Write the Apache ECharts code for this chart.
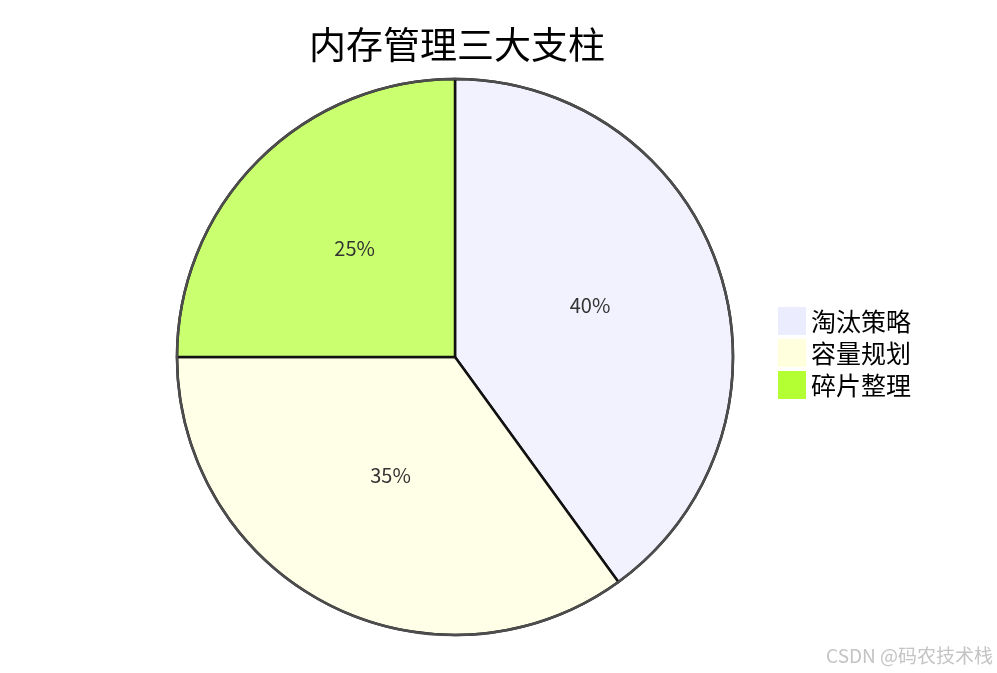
<!DOCTYPE html>
<html>
<head>
<meta charset="utf-8">
<script src="https://cdn.jsdelivr.net/npm/echarts@6/dist/echarts.min.js"></script>
<style>
  html, body { margin: 0; padding: 0; background: #fff; }
  #main { width: 997px; height: 673px; }
</style>
</head>
<body>
<div id="main"></div>
<script>
let titleText = '内存管理三大支柱';
let categories = ['淘汰策略', '容量规划', '碎片整理'];
let values = [40, 35, 25];
// legend swatches use the full colour, slices are drawn paler
let legendColors = ['#ececff', '#ffffde', '#b3ff33'];
let sliceColors = ['#f2f2ff', '#ffffe8', '#caff70'];

let chartDom = document.getElementById('main');
let myChart = echarts.init(chartDom);
let font = '"Noto Sans CJK SC", "Noto Sans", sans-serif';

let option = {
  animation: false,
  title: {
    text: titleText,
    left: 452,
    textAlign: 'center',
    top: 21,
    textStyle: { fontSize: 37, fontWeight: 'normal', color: '#000', fontFamily: font }
  },
  legend: {
    orient: 'vertical',
    left: 778,
    top: 307,
    padding: 0,
    itemWidth: 28,
    itemHeight: 28,
    itemGap: 4,
    icon: 'rect',
    textStyle: { fontSize: 25, color: '#000', fontFamily: font },
    data: categories.map(function (name, i) {
      return { name: name, itemStyle: { color: legendColors[i], borderWidth: 0 } };
    })
  },
  graphic: [{
    type: 'text',
    right: 4,
    bottom: 8,
    style: { text: 'CSDN @码农技术栈', fill: '#c4c4c4', fontSize: 19, fontFamily: font }
  }],
  series: [
    {
      type: 'pie',
      center: [455, 357],
      radius: 278,
      startAngle: 90,
      clockwise: true,
      label: {
        position: 'inside',
        formatter: '{d}%',
        fontSize: 20,
        color: '#333',
        fontFamily: font,
        offset: [0, -8]
      },
      labelLine: { show: false },
      itemStyle: { borderColor: '#111', borderWidth: 2.5 },
      emphasis: { disabled: true },
      data: categories.map(function (name, i) {
        return { name: name, value: values[i], itemStyle: { color: sliceColors[i] } };
      })
    },
    {
      type: 'pie',
      center: [455, 357],
      radius: 278,
      silent: true,
      label: { show: false },
      labelLine: { show: false },
      itemStyle: { color: 'rgba(0,0,0,0)', borderColor: '#4d4d4d', borderWidth: 2.5 },
      data: [{ name: 'ring', value: 1 }]
    }
  ]
};

option && myChart.setOption(option);
</script>
</body>
</html>
